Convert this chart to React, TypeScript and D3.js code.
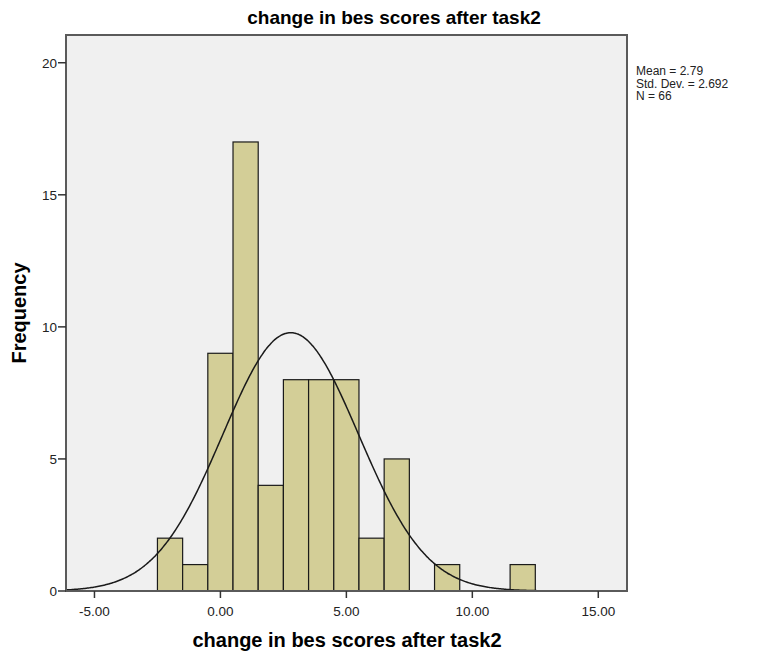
import React from "react";
import * as d3 from "d3";

const binCenters = [-2, -1, 0, 1, 2, 3, 4, 5, 6, 7, 8, 9, 10, 11, 12];
const binCounts = [2, 1, 9, 17, 4, 8, 8, 8, 2, 5, 0, 1, 0, 0, 1];
const xTicks = [-5, 0, 5, 10, 15];
const yTicks = [0, 5, 10, 15, 20];
const statMean = 2.79;
const statSd = 2.692;
const statN = 66;
const statLines = ["Mean = 2.79", "Std. Dev. = 2.692", "N = 66"];
const titleText = "change in bes scores after task2";
const xLabel = "change in bes scores after task2";
const yLabel = "Frequency";

const W = 757;
const H = 660;
const L = 66;
const R = 627;
const T = 35;
const B = 591;
const font = "'Liberation Sans', Arial, sans-serif";

export default function App() {
  const x = d3.scaleLinear().domain([-6.13, 16.14]).range([L, R]);
  const y = d3.scaleLinear().domain([0, 21.05]).range([B, T]);
  const binW = 1;

  const pdf = (v: number) =>
    (statN * binW) / (statSd * Math.sqrt(2 * Math.PI)) *
    Math.exp(-0.5 * ((v - statMean) / statSd) ** 2);
  const xs = d3.range(-6.13, 16.14, 0.05);
  const line = d3
    .line<number>()
    .x((d) => x(d))
    .y((d) => y(pdf(d)))
    .curve(d3.curveBasis);

  return (
    <svg width={W} height={H} style={{ display: "block", position: "absolute", left: 0, top: 0 }}>
      <rect x={0} y={0} width={W} height={H} fill="#ffffff" />
      <text x={394} y={24} textAnchor="middle" fontFamily={font} fontWeight="bold" fontSize={19} fill="#000">
        {titleText}
      </text>
      <rect x={L} y={T} width={R - L} height={B - T} fill="#f0f0f0" />
      <defs>
        <clipPath id="pc">
          <rect x={L} y={T} width={R - L} height={B - T} />
        </clipPath>
      </defs>
      {binCenters.map((c, i) =>
        binCounts[i] > 0 ? (
          <rect
            key={i}
            x={x(c - binW / 2)}
            y={y(binCounts[i])}
            width={x(c + binW / 2) - x(c - binW / 2)}
            height={y(0) - y(binCounts[i])}
            fill="#d3ce97"
            stroke="#1a1a1a"
            strokeWidth={1.2}
          />
        ) : null
      )}
      <path d={line(xs) || ""} fill="none" stroke="#1a1a1a" strokeWidth={1.5} clipPath="url(#pc)" />
      <rect x={L} y={T} width={R - L} height={B - T} fill="none" stroke="#5a5a5a" strokeWidth={2} />
      {xTicks.map((t) => (
        <g key={t}>
          <line x1={x(t)} x2={x(t)} y1={B} y2={B + 7} stroke="#333" strokeWidth={1.5} />
          <text x={x(t)} y={B + 25} textAnchor="middle" fontFamily={font} fontSize={13.5} fill="#222">
            {t.toFixed(2)}
          </text>
        </g>
      ))}
      {yTicks.map((t) => (
        <g key={t}>
          <line x1={L - 8} x2={L} y1={y(t)} y2={y(t)} stroke="#333" strokeWidth={1.5} />
          <text x={L - 9} y={y(t) + 5} textAnchor="end" fontFamily={font} fontSize={13.5} fill="#222">
            {t}
          </text>
        </g>
      ))}
      <text x={347} y={647} textAnchor="middle" fontFamily={font} fontWeight="bold" fontSize={20} fill="#000">
        {xLabel}
      </text>
      <text
        transform={`translate(26,313) rotate(-90)`}
        textAnchor="middle"
        fontFamily={font}
        fontWeight="bold"
        fontSize={20}
        fill="#000"
      >
        {yLabel}
      </text>
      {statLines.map((s, i) => (
        <text key={i} x={636} y={75 + i * 12.5} fontFamily={font} fontSize={12} fill="#222">
          {s}
        </text>
      ))}
    </svg>
  );
}
